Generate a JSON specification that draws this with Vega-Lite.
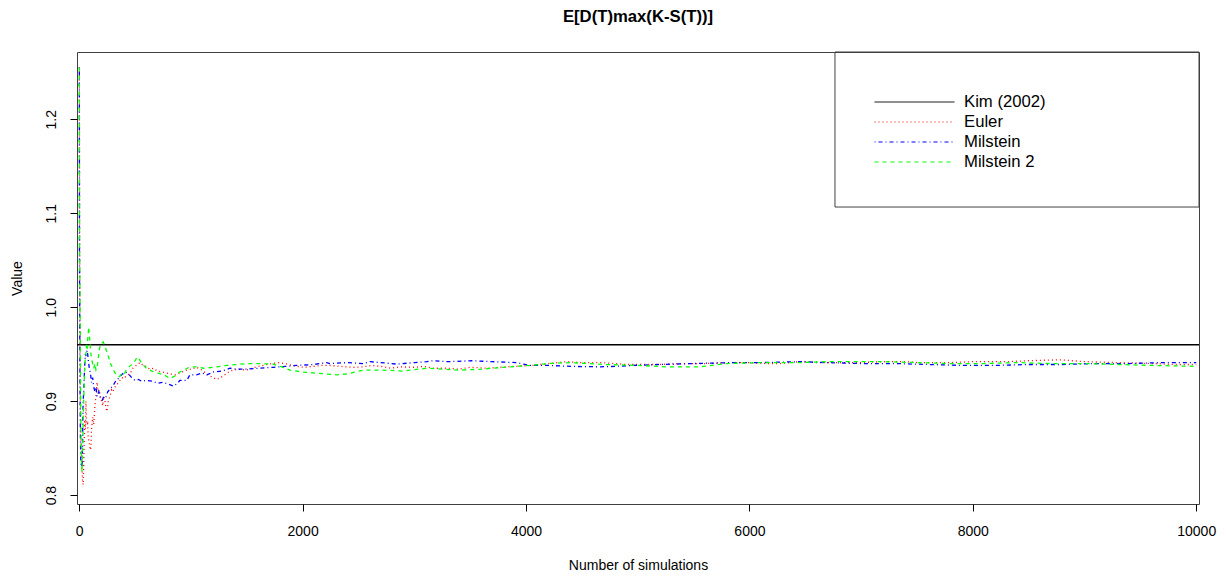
{
  "$schema": "https://vega.github.io/schema/vega-lite/v6.json",
  "width": 1122,
  "height": 452,
  "autosize": {"type": "none"},
  "padding": {"left": 77, "top": 52, "right": 29, "bottom": 74},
  "background": "white",
  "config": {
    "view": {"stroke": "#404040", "strokeWidth": 1},
    "font": "Liberation Sans",
    "axis": {"grid": false, "domain": false, "tickColor": "black", "tickSize": 7, "labelColor": "black", "titleColor": "black", "labelFontSize": 14, "titleFontSize": 14, "titleFontWeight": "normal", "labelFont": "Liberation Sans", "titleFont": "Liberation Sans"},
    "legend": {"orient": "none", "legendX": 797, "legendY": 40, "title": null, "symbolType": "stroke", "symbolSize": 6400, "symbolStrokeWidth": 1, "labelFontSize": 16.7, "labelFont": "Liberation Sans", "labelColor": "black", "labelOffset": 9, "clipHeight": 20, "rowPadding": 0, "padding": 0}
  },
  "title": {"text": "E[D(T)max(K-S(T))]", "fontSize": 16.7, "fontWeight": "bold", "font": "Liberation Sans", "color": "black", "anchor": "middle", "offset": 26},
  "datasets": {
    "box": [{"x1": 6766, "x2": 10025, "y1": 1.1066, "y2": 1.2716}],
    "series": [
      {"s":"Kim (2002)","n":-20,"v":0.96},{"s":"Kim (2002)","n":10025,"v":0.96},
      {"s":"Euler","n":1,"v":1.255},{"s":"Euler","n":3,"v":1.10},{"s":"Euler","n":6,"v":1.00},{"s":"Euler","n":10,"v":0.90},{"s":"Euler","n":15,"v":0.86},{"s":"Euler","n":20,"v":0.84},{"s":"Euler","n":25,"v":0.83},{"s":"Euler","n":30,"v":0.815},{"s":"Euler","n":35,"v":0.811},{"s":"Euler","n":40,"v":0.83},{"s":"Euler","n":45,"v":0.86},{"s":"Euler","n":50,"v":0.88},{"s":"Euler","n":55,"v":0.87},{"s":"Euler","n":60,"v":0.90},{"s":"Euler","n":65,"v":0.88},{"s":"Euler","n":70,"v":0.875},{"s":"Euler","n":75,"v":0.876},{"s":"Euler","n":80,"v":0.862},{"s":"Euler","n":90,"v":0.855},{"s":"Euler","n":100,"v":0.848},{"s":"Euler","n":105,"v":0.851},{"s":"Euler","n":110,"v":0.87},{"s":"Euler","n":120,"v":0.883},{"s":"Euler","n":130,"v":0.875},{"s":"Euler","n":140,"v":0.895},{"s":"Euler","n":150,"v":0.905},{"s":"Euler","n":160,"v":0.92},{"s":"Euler","n":170,"v":0.91},{"s":"Euler","n":179,"v":0.912},{"s":"Euler","n":190,"v":0.905},{"s":"Euler","n":200,"v":0.90},{"s":"Euler","n":210,"v":0.895},{"s":"Euler","n":220,"v":0.905},{"s":"Euler","n":230,"v":0.90},{"s":"Euler","n":240,"v":0.892},{"s":"Euler","n":250,"v":0.889},{"s":"Euler","n":260,"v":0.90},{"s":"Euler","n":275,"v":0.905},{"s":"Euler","n":290,"v":0.912},{"s":"Euler","n":300,"v":0.91},{"s":"Euler","n":320,"v":0.915},{"s":"Euler","n":340,"v":0.918},{"s":"Euler","n":360,"v":0.921},{"s":"Euler","n":380,"v":0.925},{"s":"Euler","n":400,"v":0.924},{"s":"Euler","n":430,"v":0.928},{"s":"Euler","n":454,"v":0.929},{"s":"Euler","n":480,"v":0.935},{"s":"Euler","n":510,"v":0.938},{"s":"Euler","n":543,"v":0.941},{"s":"Euler","n":570,"v":0.938},{"s":"Euler","n":600,"v":0.937},{"s":"Euler","n":630,"v":0.934},{"s":"Euler","n":663,"v":0.935},{"s":"Euler","n":700,"v":0.932},{"s":"Euler","n":750,"v":0.931},{"s":"Euler","n":812,"v":0.929},{"s":"Euler","n":860,"v":0.928},{"s":"Euler","n":901,"v":0.930},{"s":"Euler","n":962,"v":0.933},{"s":"Euler","n":1000,"v":0.934},{"s":"Euler","n":1051,"v":0.936},{"s":"Euler","n":1100,"v":0.933},{"s":"Euler","n":1150,"v":0.928},{"s":"Euler","n":1200,"v":0.925},{"s":"Euler","n":1230,"v":0.923},{"s":"Euler","n":1280,"v":0.926},{"s":"Euler","n":1349,"v":0.932},{"s":"Euler","n":1420,"v":0.934},{"s":"Euler","n":1499,"v":0.933},{"s":"Euler","n":1570,"v":0.936},{"s":"Euler","n":1647,"v":0.938},{"s":"Euler","n":1720,"v":0.940},{"s":"Euler","n":1797,"v":0.941},{"s":"Euler","n":1870,"v":0.939},{"s":"Euler","n":1946,"v":0.937},{"s":"Euler","n":2005,"v":0.936},{"s":"Euler","n":2100,"v":0.937},{"s":"Euler","n":2170,"v":0.938},{"s":"Euler","n":2244,"v":0.938},{"s":"Euler","n":2335,"v":0.937},{"s":"Euler","n":2450,"v":0.936},{"s":"Euler","n":2543,"v":0.9365},{"s":"Euler","n":2620,"v":0.938},{"s":"Euler","n":2700,"v":0.937},{"s":"Euler","n":2790,"v":0.935},{"s":"Euler","n":2871,"v":0.9365},{"s":"Euler","n":3000,"v":0.936},{"s":"Euler","n":3080,"v":0.937},{"s":"Euler","n":3166,"v":0.935},{"s":"Euler","n":3300,"v":0.935},{"s":"Euler","n":3400,"v":0.934},{"s":"Euler","n":3500,"v":0.936},{"s":"Euler","n":3650,"v":0.935},{"s":"Euler","n":3766,"v":0.936},{"s":"Euler","n":3900,"v":0.937},{"s":"Euler","n":4061,"v":0.938},{"s":"Euler","n":4200,"v":0.940},{"s":"Euler","n":4365,"v":0.942},{"s":"Euler","n":4500,"v":0.941},{"s":"Euler","n":4660,"v":0.941},{"s":"Euler","n":4800,"v":0.940},{"s":"Euler","n":4900,"v":0.939},{"s":"Euler","n":5000,"v":0.939},{"s":"Euler","n":5200,"v":0.939},{"s":"Euler","n":5400,"v":0.940},{"s":"Euler","n":5600,"v":0.940},{"s":"Euler","n":5850,"v":0.941},{"s":"Euler","n":6000,"v":0.941},{"s":"Euler","n":6150,"v":0.940},{"s":"Euler","n":6273,"v":0.940},{"s":"Euler","n":6449,"v":0.942},{"s":"Euler","n":6600,"v":0.941},{"s":"Euler","n":6800,"v":0.941},{"s":"Euler","n":7000,"v":0.941},{"s":"Euler","n":7200,"v":0.942},{"s":"Euler","n":7400,"v":0.942},{"s":"Euler","n":7500,"v":0.941},{"s":"Euler","n":7800,"v":0.941},{"s":"Euler","n":8000,"v":0.942},{"s":"Euler","n":8300,"v":0.942},{"s":"Euler","n":8500,"v":0.943},{"s":"Euler","n":8780,"v":0.944},{"s":"Euler","n":9000,"v":0.942},{"s":"Euler","n":9300,"v":0.941},{"s":"Euler","n":9600,"v":0.940},{"s":"Euler","n":9800,"v":0.939},{"s":"Euler","n":10000,"v":0.939},
      {"s":"Milstein","n":1,"v":1.255},{"s":"Milstein","n":2,"v":1.06},{"s":"Milstein","n":4,"v":1.00},{"s":"Milstein","n":7,"v":0.92},{"s":"Milstein","n":10,"v":0.87},{"s":"Milstein","n":13,"v":0.84},{"s":"Milstein","n":15,"v":0.834},{"s":"Milstein","n":20,"v":0.83},{"s":"Milstein","n":25,"v":0.835},{"s":"Milstein","n":27,"v":0.83},{"s":"Milstein","n":30,"v":0.86},{"s":"Milstein","n":35,"v":0.90},{"s":"Milstein","n":40,"v":0.91},{"s":"Milstein","n":45,"v":0.926},{"s":"Milstein","n":50,"v":0.94},{"s":"Milstein","n":55,"v":0.95},{"s":"Milstein","n":60,"v":0.948},{"s":"Milstein","n":65,"v":0.952},{"s":"Milstein","n":72,"v":0.954},{"s":"Milstein","n":80,"v":0.945},{"s":"Milstein","n":90,"v":0.935},{"s":"Milstein","n":100,"v":0.93},{"s":"Milstein","n":110,"v":0.92},{"s":"Milstein","n":120,"v":0.925},{"s":"Milstein","n":130,"v":0.915},{"s":"Milstein","n":140,"v":0.91},{"s":"Milstein","n":150,"v":0.915},{"s":"Milstein","n":160,"v":0.905},{"s":"Milstein","n":175,"v":0.91},{"s":"Milstein","n":190,"v":0.903},{"s":"Milstein","n":206,"v":0.901},{"s":"Milstein","n":220,"v":0.905},{"s":"Milstein","n":239,"v":0.904},{"s":"Milstein","n":255,"v":0.91},{"s":"Milstein","n":270,"v":0.912},{"s":"Milstein","n":290,"v":0.915},{"s":"Milstein","n":310,"v":0.918},{"s":"Milstein","n":330,"v":0.922},{"s":"Milstein","n":350,"v":0.924},{"s":"Milstein","n":370,"v":0.927},{"s":"Milstein","n":389,"v":0.929},{"s":"Milstein","n":414,"v":0.931},{"s":"Milstein","n":440,"v":0.929},{"s":"Milstein","n":470,"v":0.925},{"s":"Milstein","n":500,"v":0.922},{"s":"Milstein","n":530,"v":0.923},{"s":"Milstein","n":560,"v":0.921},{"s":"Milstein","n":600,"v":0.922},{"s":"Milstein","n":663,"v":0.921},{"s":"Milstein","n":700,"v":0.919},{"s":"Milstein","n":750,"v":0.920},{"s":"Milstein","n":800,"v":0.918},{"s":"Milstein","n":844,"v":0.916},{"s":"Milstein","n":880,"v":0.919},{"s":"Milstein","n":901,"v":0.922},{"s":"Milstein","n":962,"v":0.922},{"s":"Milstein","n":991,"v":0.928},{"s":"Milstein","n":1050,"v":0.928},{"s":"Milstein","n":1100,"v":0.930},{"s":"Milstein","n":1141,"v":0.928},{"s":"Milstein","n":1202,"v":0.931},{"s":"Milstein","n":1280,"v":0.932},{"s":"Milstein","n":1349,"v":0.935},{"s":"Milstein","n":1420,"v":0.934},{"s":"Milstein","n":1499,"v":0.934},{"s":"Milstein","n":1600,"v":0.935},{"s":"Milstein","n":1737,"v":0.936},{"s":"Milstein","n":1850,"v":0.937},{"s":"Milstein","n":1946,"v":0.938},{"s":"Milstein","n":2100,"v":0.939},{"s":"Milstein","n":2215,"v":0.941},{"s":"Milstein","n":2244,"v":0.940},{"s":"Milstein","n":2400,"v":0.941},{"s":"Milstein","n":2543,"v":0.940},{"s":"Milstein","n":2603,"v":0.942},{"s":"Milstein","n":2700,"v":0.941},{"s":"Milstein","n":2841,"v":0.9394},{"s":"Milstein","n":3000,"v":0.941},{"s":"Milstein","n":3110,"v":0.942},{"s":"Milstein","n":3166,"v":0.943},{"s":"Milstein","n":3300,"v":0.942},{"s":"Milstein","n":3524,"v":0.943},{"s":"Milstein","n":3700,"v":0.942},{"s":"Milstein","n":3915,"v":0.941},{"s":"Milstein","n":4034,"v":0.938},{"s":"Milstein","n":4200,"v":0.938},{"s":"Milstein","n":4400,"v":0.937},{"s":"Milstein","n":4660,"v":0.9365},{"s":"Milstein","n":4800,"v":0.937},{"s":"Milstein","n":4955,"v":0.938},{"s":"Milstein","n":5200,"v":0.939},{"s":"Milstein","n":5500,"v":0.940},{"s":"Milstein","n":5850,"v":0.941},{"s":"Milstein","n":6100,"v":0.941},{"s":"Milstein","n":6449,"v":0.942},{"s":"Milstein","n":6700,"v":0.941},{"s":"Milstein","n":7000,"v":0.940},{"s":"Milstein","n":7300,"v":0.940},{"s":"Milstein","n":7600,"v":0.939},{"s":"Milstein","n":7911,"v":0.938},{"s":"Milstein","n":8200,"v":0.938},{"s":"Milstein","n":8500,"v":0.939},{"s":"Milstein","n":8800,"v":0.939},{"s":"Milstein","n":9100,"v":0.940},{"s":"Milstein","n":9400,"v":0.940},{"s":"Milstein","n":9700,"v":0.941},{"s":"Milstein","n":10000,"v":0.941},
      {"s":"Milstein 2","n":1,"v":1.255},{"s":"Milstein 2","n":3,"v":1.06},{"s":"Milstein 2","n":5,"v":1.04},{"s":"Milstein 2","n":8,"v":1.00},{"s":"Milstein 2","n":10,"v":0.96},{"s":"Milstein 2","n":13,"v":0.90},{"s":"Milstein 2","n":16,"v":0.86},{"s":"Milstein 2","n":20,"v":0.84},{"s":"Milstein 2","n":24,"v":0.825},{"s":"Milstein 2","n":28,"v":0.84},{"s":"Milstein 2","n":32,"v":0.86},{"s":"Milstein 2","n":36,"v":0.88},{"s":"Milstein 2","n":40,"v":0.90},{"s":"Milstein 2","n":45,"v":0.92},{"s":"Milstein 2","n":50,"v":0.94},{"s":"Milstein 2","n":55,"v":0.945},{"s":"Milstein 2","n":60,"v":0.95},{"s":"Milstein 2","n":65,"v":0.96},{"s":"Milstein 2","n":70,"v":0.955},{"s":"Milstein 2","n":75,"v":0.965},{"s":"Milstein 2","n":80,"v":0.97},{"s":"Milstein 2","n":84,"v":0.979},{"s":"Milstein 2","n":90,"v":0.97},{"s":"Milstein 2","n":95,"v":0.965},{"s":"Milstein 2","n":100,"v":0.955},{"s":"Milstein 2","n":110,"v":0.945},{"s":"Milstein 2","n":120,"v":0.94},{"s":"Milstein 2","n":130,"v":0.935},{"s":"Milstein 2","n":140,"v":0.94},{"s":"Milstein 2","n":150,"v":0.933},{"s":"Milstein 2","n":160,"v":0.935},{"s":"Milstein 2","n":170,"v":0.945},{"s":"Milstein 2","n":180,"v":0.955},{"s":"Milstein 2","n":190,"v":0.96},{"s":"Milstein 2","n":200,"v":0.962},{"s":"Milstein 2","n":215,"v":0.963},{"s":"Milstein 2","n":225,"v":0.96},{"s":"Milstein 2","n":240,"v":0.955},{"s":"Milstein 2","n":260,"v":0.948},{"s":"Milstein 2","n":280,"v":0.94},{"s":"Milstein 2","n":300,"v":0.935},{"s":"Milstein 2","n":320,"v":0.93},{"s":"Milstein 2","n":340,"v":0.927},{"s":"Milstein 2","n":358,"v":0.926},{"s":"Milstein 2","n":380,"v":0.929},{"s":"Milstein 2","n":400,"v":0.928},{"s":"Milstein 2","n":420,"v":0.933},{"s":"Milstein 2","n":450,"v":0.937},{"s":"Milstein 2","n":480,"v":0.94},{"s":"Milstein 2","n":500,"v":0.943},{"s":"Milstein 2","n":519,"v":0.947},{"s":"Milstein 2","n":530,"v":0.946},{"s":"Milstein 2","n":560,"v":0.94},{"s":"Milstein 2","n":600,"v":0.935},{"s":"Milstein 2","n":650,"v":0.932},{"s":"Milstein 2","n":700,"v":0.93},{"s":"Milstein 2","n":760,"v":0.928},{"s":"Milstein 2","n":812,"v":0.924},{"s":"Milstein 2","n":860,"v":0.927},{"s":"Milstein 2","n":900,"v":0.931},{"s":"Milstein 2","n":993,"v":0.9365},{"s":"Milstein 2","n":1050,"v":0.9365},{"s":"Milstein 2","n":1113,"v":0.935},{"s":"Milstein 2","n":1200,"v":0.936},{"s":"Milstein 2","n":1320,"v":0.938},{"s":"Milstein 2","n":1420,"v":0.939},{"s":"Milstein 2","n":1499,"v":0.940},{"s":"Milstein 2","n":1600,"v":0.940},{"s":"Milstein 2","n":1737,"v":0.9394},{"s":"Milstein 2","n":1800,"v":0.937},{"s":"Milstein 2","n":1886,"v":0.933},{"s":"Milstein 2","n":2000,"v":0.931},{"s":"Milstein 2","n":2097,"v":0.930},{"s":"Milstein 2","n":2200,"v":0.929},{"s":"Milstein 2","n":2305,"v":0.928},{"s":"Milstein 2","n":2400,"v":0.929},{"s":"Milstein 2","n":2543,"v":0.933},{"s":"Milstein 2","n":2720,"v":0.933},{"s":"Milstein 2","n":2900,"v":0.932},{"s":"Milstein 2","n":3110,"v":0.935},{"s":"Milstein 2","n":3250,"v":0.934},{"s":"Milstein 2","n":3408,"v":0.933},{"s":"Milstein 2","n":3600,"v":0.934},{"s":"Milstein 2","n":3800,"v":0.936},{"s":"Milstein 2","n":4034,"v":0.938},{"s":"Milstein 2","n":4200,"v":0.940},{"s":"Milstein 2","n":4400,"v":0.941},{"s":"Milstein 2","n":4700,"v":0.939},{"s":"Milstein 2","n":5000,"v":0.938},{"s":"Milstein 2","n":5260,"v":0.9365},{"s":"Milstein 2","n":5555,"v":0.9365},{"s":"Milstein 2","n":5800,"v":0.940},{"s":"Milstein 2","n":6100,"v":0.941},{"s":"Milstein 2","n":6449,"v":0.941},{"s":"Milstein 2","n":6700,"v":0.942},{"s":"Milstein 2","n":7000,"v":0.942},{"s":"Milstein 2","n":7200,"v":0.942},{"s":"Milstein 2","n":7500,"v":0.941},{"s":"Milstein 2","n":7800,"v":0.940},{"s":"Milstein 2","n":8100,"v":0.940},{"s":"Milstein 2","n":8400,"v":0.941},{"s":"Milstein 2","n":8700,"v":0.940},{"s":"Milstein 2","n":9000,"v":0.940},{"s":"Milstein 2","n":9300,"v":0.939},{"s":"Milstein 2","n":9600,"v":0.938},{"s":"Milstein 2","n":10000,"v":0.937}
    ]
  },
  "layer": [
    {
      "data": {"name": "series"},
      "mark": {"type": "line", "strokeWidth": 1.3, "clip": true},
      "encoding": {
        "x": {"field": "n", "type": "quantitative", "title": "Number of simulations", "scale": {"domain": [-20, 10025], "nice": false, "zero": false}, "axis": {"values": [0, 2000, 4000, 6000, 8000, 10000], "format": "d", "labelPadding": 13, "titlePadding": 20}},
        "y": {"field": "v", "type": "quantitative", "title": "Value", "scale": {"domain": [0.7905, 1.2716], "nice": false, "zero": false}, "axis": {"values": [0.8, 0.9, 1.0, 1.1, 1.2], "format": ".1f", "labelAngle": -90, "labelAlign": "center", "labelBaseline": "bottom", "labelPadding": 12, "titlePadding": 20}},
        "color": {"field": "s", "type": "nominal", "sort": ["Kim (2002)", "Euler", "Milstein", "Milstein 2"], "scale": {"domain": ["Kim (2002)", "Euler", "Milstein", "Milstein 2"], "range": ["#000000", "#FF0000", "#0000FF", "#00FF00"]}},
        "strokeDash": {"field": "s", "type": "nominal", "sort": ["Kim (2002)", "Euler", "Milstein", "Milstein 2"], "scale": {"domain": ["Kim (2002)", "Euler", "Milstein", "Milstein 2"], "range": [[1, 0], [1, 3], [1, 3, 4, 3], [4, 4]]}}
      }
    },
    {
      "data": {"name": "box"},
      "mark": {"type": "rect", "fill": null, "fillOpacity": 0, "stroke": "#404040", "strokeWidth": 1},
      "encoding": {
        "x": {"field": "x1", "type": "quantitative"},
        "x2": {"field": "x2"},
        "y": {"field": "y1", "type": "quantitative"},
        "y2": {"field": "y2"}
      }
    }
  ]
}
